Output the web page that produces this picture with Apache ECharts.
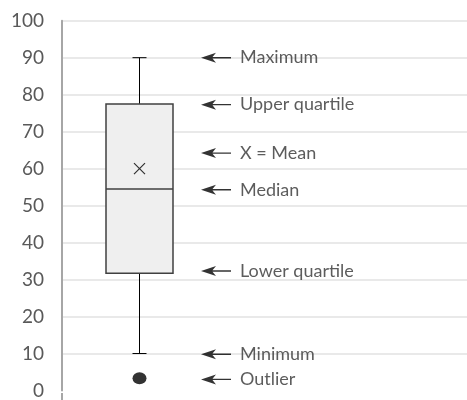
<!DOCTYPE html>
<html>
<head>
<meta charset="utf-8">
<script src="https://cdn.jsdelivr.net/npm/echarts@6/dist/echarts.min.js"></script>
<style>html,body{margin:0;padding:0;background:#fff;}#c{width:467px;height:400px;}</style>
</head>
<body>
<div id="c"></div>
<script>
// ---- data ----
const categories = ['Sample'];
const boxValues = [[10, 31.7, 54.5, 77.5, 90]]; // min, Q1, median, Q3, max
const meanValues = [60];
const outlierValues = [3.3];
const annotationLabels = ['Maximum', 'Upper quartile', 'X = Mean', 'Median', 'Lower quartile', 'Minimum', 'Outlier'];
const annotationY = [90, 77.3, 64.2, 54.3, 32.3, 9.8, 3.0];
const yTicks = [0, 10, 20, 30, 40, 50, 60, 70, 80, 90, 100];

// ---- layout (pixels along hidden x axis) ----
const BOX_X = 77.5, BOX_HALF = 33.5, CAP_HALF = 7, ARROW_X = 154;
const FONT = 'Lato, "Noto Sans", sans-serif';

const chart = echarts.init(document.getElementById('c'), null, {renderer: 'canvas'});

const arrowPath = 'path://M0,5L15,0L11.5,4.3L30,4.3L30,5.7L11.5,5.7L15,10Z';

chart.setOption({
  animation: false,
  grid: {left: 62, right: 0, top: 20.7, bottom: 7, containLabel: false},
  xAxis: {type: 'value', min: 0, max: 405, show: false},
  yAxis: {
    type: 'value', min: yTicks[0], max: yTicks[yTicks.length - 1], interval: 10,
    axisLine: {show: true, lineStyle: {color: '#a6a6a6', width: 2}},
    axisTick: {show: false},
    axisLabel: {color: '#595959', fontSize: 19, fontFamily: FONT, margin: 18},
    splitLine: {show: true, showMinLine: false, lineStyle: {color: '#e2e2e2', width: 1.5}}
  },
  graphic: [{type: 'line', shape: {x1: 62, y1: 393, x2: 62, y2: 400}, style: {stroke: '#a6a6a6', lineWidth: 2}}],
  series: [
    {
      type: 'custom',
      name: categories[0],
      data: boxValues.map(v => [BOX_X].concat(v)),
      renderItem: function (params, api) {
        const xc = api.value(0);
        const pMin = api.coord([xc, api.value(1)]);
        const pQ1 = api.coord([xc, api.value(2)]);
        const pMed = api.coord([xc, api.value(3)]);
        const pQ3 = api.coord([xc, api.value(4)]);
        const pMax = api.coord([xc, api.value(5)]);
        const xl = api.coord([xc - BOX_HALF, 0])[0];
        const xr = api.coord([xc + BOX_HALF, 0])[0];
        const cl = api.coord([xc - CAP_HALF, 0])[0];
        const cr = api.coord([xc + CAP_HALF, 0])[0];
        const wl = {stroke: '#000', lineWidth: 1};
        return {
          type: 'group',
          children: [
            {type: 'line', shape: {x1: pMax[0], y1: pMax[1], x2: pQ3[0], y2: pQ3[1]}, style: wl},
            {type: 'line', shape: {x1: pMin[0], y1: pMin[1], x2: pQ1[0], y2: pQ1[1]}, style: wl},
            {type: 'line', shape: {x1: cl, y1: pMax[1], x2: cr, y2: pMax[1]}, style: wl},
            {type: 'line', shape: {x1: cl, y1: pMin[1], x2: cr, y2: pMin[1]}, style: wl},
            {type: 'rect', shape: {x: xl, y: pQ3[1], width: xr - xl, height: pQ1[1] - pQ3[1]},
              style: {fill: '#efefef', stroke: '#404040', lineWidth: 1.5}},
            {type: 'line', shape: {x1: xl, y1: pMed[1], x2: xr, y2: pMed[1]}, style: {stroke: '#404040', lineWidth: 1.5}}
          ]
        };
      },
      z: 3
    },
    {
      type: 'scatter',
      data: meanValues.map(v => [BOX_X, v]),
      symbol: 'path://M0,0L10,10M10,0L0,10',
      symbolSize: 11,
      itemStyle: {color: 'transparent', borderColor: '#000', borderWidth: 1.2},
      z: 5
    },
    {
      type: 'scatter',
      data: outlierValues.map(v => [BOX_X, v]),
      symbol: 'circle',
      symbolSize: [14, 12],
      itemStyle: {color: '#000'},
      z: 5
    },
    {
      type: 'scatter',
      data: annotationY.map((v, i) => ({value: [ARROW_X, v], name: annotationLabels[i]})),
      symbol: arrowPath,
      symbolSize: [30, 10],
      itemStyle: {color: '#000'},
      label: {
        show: true, position: 'right', distance: 9,
        formatter: p => p.name,
        color: '#333333', fontSize: 18, fontFamily: FONT
      },
      z: 5
    }
  ]
});
</script>
</body>
</html>
